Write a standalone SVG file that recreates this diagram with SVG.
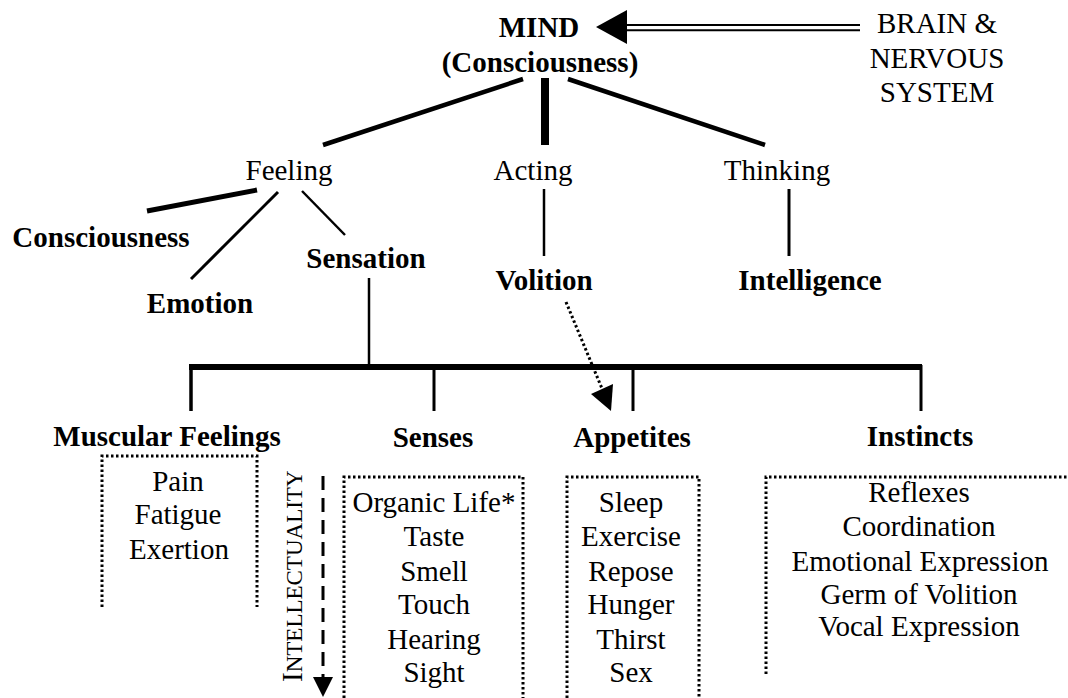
<svg xmlns="http://www.w3.org/2000/svg" width="1068" height="698" viewBox="0 0 1068 698">
  <style>
    text { font-family: "Liberation Serif", "DejaVu Serif", serif; font-size: 29px; fill: #000; text-anchor: middle; }
    .b { font-weight: bold; }
    .ln { stroke: #000; fill: none; stroke-linecap: butt; }
    .dot { stroke: #000; fill: none; stroke-width: 3; stroke-dasharray: 2.5 2.5; }
    .head { fill: #000; stroke: none; }
  </style>
  <rect width="1068" height="698" fill="#fff"/>

  <!-- connectors -->
  <g id="connectors">
    <!-- brain & nervous system feeding the mind -->
    <line class="ln" x1="627" y1="25" x2="860" y2="25" stroke-width="2"/>
    <line class="ln" x1="627" y1="30.3" x2="860" y2="30.3" stroke-width="2"/>
    <polygon class="head" points="596,27 627,10 627,44"/>

    <!-- mind to the three faculties -->
    <line class="ln" x1="523" y1="79" x2="323" y2="145" stroke-width="4.5"/>
    <line class="ln" x1="545" y1="78" x2="545" y2="145" stroke-width="8"/>
    <line class="ln" x1="568" y1="79" x2="765" y2="145" stroke-width="4.5"/>

    <!-- feeling branches -->
    <line class="ln" x1="257" y1="190" x2="147" y2="211" stroke-width="5"/>
    <line class="ln" x1="278" y1="192" x2="191" y2="279" stroke-width="3"/>
    <line class="ln" x1="302" y1="191" x2="345" y2="235" stroke-width="2.5"/>

    <!-- acting / thinking -->
    <line class="ln" x1="544" y1="189" x2="544" y2="256" stroke-width="2.5"/>
    <line class="ln" x1="789" y1="189" x2="789" y2="256" stroke-width="3"/>

    <!-- sensation down to the bar -->
    <line class="ln" x1="369" y1="278" x2="369" y2="367" stroke-width="2.5"/>
    <line class="ln" x1="189" y1="367" x2="922" y2="367" stroke-width="6"/>
    <line class="ln" x1="191" y1="365" x2="191" y2="411" stroke-width="3.5"/>
    <line class="ln" x1="434" y1="365" x2="434" y2="411" stroke-width="3"/>
    <line class="ln" x1="633" y1="365" x2="633" y2="411" stroke-width="3"/>
    <line class="ln" x1="921" y1="365" x2="921" y2="411" stroke-width="3"/>

    <!-- volition influencing appetites -->
    <line class="dot" x1="566" y1="302" x2="603" y2="391"/>
    <polygon class="head" points="611,411 591,394 613,384"/>

    <!-- intellectuality scale -->
    <line class="ln" x1="323" y1="476" x2="323" y2="680" stroke-width="3" stroke-dasharray="14 8"/>
    <polygon class="head" points="313,677 333,677 323,697"/>
  </g>

  <g id="mind">
    <text class="b" x="539" y="37">MIND</text>
    <text class="b" x="540" y="72">(Consciousness)</text>
  </g>

  <g id="brain">
    <text x="937" y="33">BRAIN &amp;</text>
    <text x="937" y="68">NERVOUS</text>
    <text x="937" y="102">SYSTEM</text>
  </g>

  <g id="feeling"><text x="289" y="180">Feeling</text></g>
  <g id="acting"><text x="533" y="180">Acting</text></g>
  <g id="thinking"><text x="777" y="180">Thinking</text></g>

  <g id="consciousness"><text class="b" x="101" y="247">Consciousness</text></g>
  <g id="emotion"><text class="b" x="200" y="313">Emotion</text></g>
  <g id="sensation"><text class="b" x="366" y="268">Sensation</text></g>
  <g id="volition"><text class="b" x="544" y="290">Volition</text></g>
  <g id="intelligence"><text class="b" x="810" y="290">Intelligence</text></g>

  <g id="muscular-feelings">
    <text class="b" x="167" y="446">Muscular Feelings</text>
    <path class="dot" d="M102,607 V456 H257 V607"/>
    <text x="178" y="491">Pain</text>
    <text x="178" y="524">Fatigue</text>
    <text x="179" y="559">Exertion</text>
  </g>

  <g id="senses">
    <text class="b" x="433" y="447">Senses</text>
    <path class="dot" d="M344,698 V477 H523 V698"/>
    <text x="434" y="512">Organic Life*</text>
    <text x="434" y="546">Taste</text>
    <text x="434" y="581">Smell</text>
    <text x="434" y="614">Touch</text>
    <text x="434" y="649">Hearing</text>
    <text x="434" y="682">Sight</text>
  </g>

  <g id="appetites">
    <text class="b" x="632" y="447">Appetites</text>
    <path class="dot" d="M567,698 V477 H699 V698"/>
    <text x="631" y="512">Sleep</text>
    <text x="631" y="546">Exercise</text>
    <text x="631" y="581">Repose</text>
    <text x="631" y="614">Hunger</text>
    <text x="631" y="649">Thirst</text>
    <text x="631" y="682">Sex</text>
  </g>

  <g id="instincts">
    <text class="b" x="920" y="446">Instincts</text>
    <path class="dot" d="M766,674 V477 H1068"/>
    <text x="919" y="502">Reflexes</text>
    <text x="919" y="536">Coordination</text>
    <text x="920" y="571">Emotional Expression</text>
    <text x="919" y="604">Germ of Volition</text>
    <text x="919" y="636">Vocal Expression</text>
  </g>

  <g id="intellectuality">
    <text x="302" y="682" transform="rotate(-90 302 682)" style="text-anchor:start">I<tspan style="font-size:23px">NTELLECTUALITY</tspan></text>
  </g>
</svg>
